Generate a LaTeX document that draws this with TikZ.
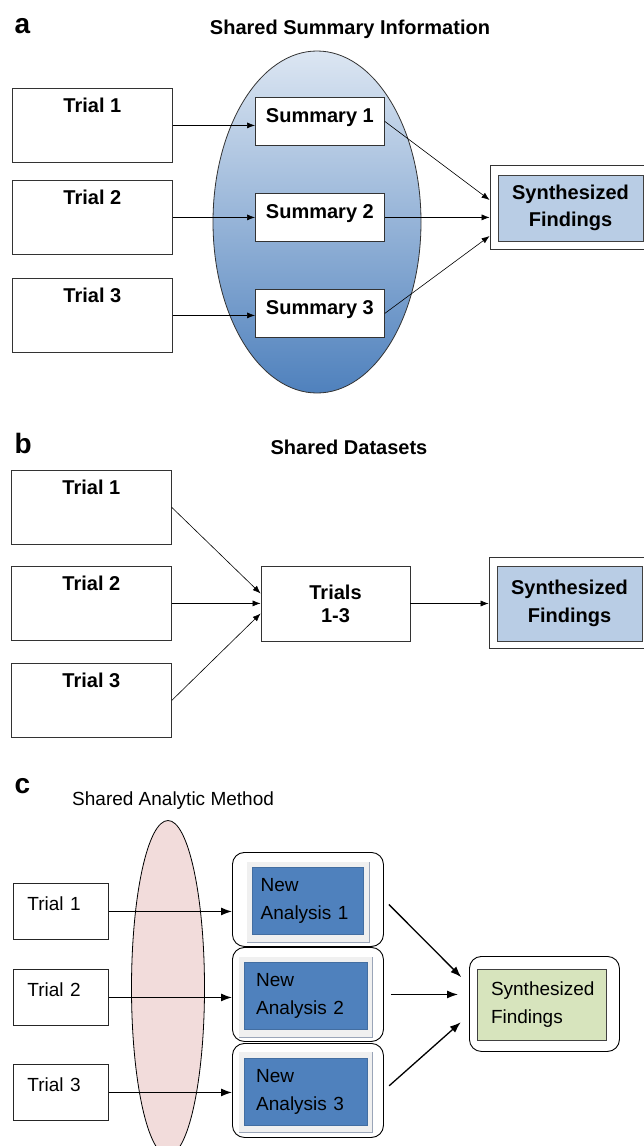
\documentclass[tikz,border=0pt]{standalone}
\usepackage{fontspec}
\setmainfont{Liberation Sans}
\usetikzlibrary{shapes.geometric,arrows.meta,calc}
\definecolor{paleblue}{HTML}{B9CDE5}
\definecolor{topblue}{HTML}{DCE6F2}
\definecolor{deepblue}{HTML}{4F81BD}
\definecolor{ovalpink}{HTML}{F2DCDB}
\definecolor{sagegreen}{HTML}{D7E4BD}
\definecolor{shadowgray}{HTML}{9AA5B8}

\begin{document}
\begin{tikzpicture}[x = {(1pt, 0pt)}, y = {(0pt, -1pt)},
  boldtext/.style = {font=\fontsize{20}{27}\selectfont\bfseries},
  plaintext/.style = {font=\fontsize{19}{28}\selectfont},
  panel/.style = {font=\fontsize{28}{30}\selectfont\bfseries, anchor=base west},
  trial/.style = {draw=black!80, line width=0.8pt, anchor=north west, inner sep=0,
    minimum width=160, text height=24, text depth=50, boldtext},
  summary/.style = {draw=black!80, line width=0.8pt, fill=white, anchor=north west,
    inner sep=0, minimum width=129, text height=25, text depth=23, boldtext},
  frame/.style = {draw=black!80, line width=0.8pt, fill=white},
  synth/.style = {draw=black!75, line width=0.8pt, fill=paleblue, align=center, boldtext},
  arr/.style = {-{Latex[length=8pt, width=6pt]}, line width=0.6pt},
  bigarr/.style = {-{Latex[length=11pt, width=8pt]}, line width=1.3pt},
  smalltrial/.style = {draw=black!85, line width=0.9pt, anchor=north west, inner ysep=0,
    inner xsep=14, text width=67, align=left, text height=27, text depth=29, plaintext},
  roundbox/.style = {draw, line width=0.9pt, rounded corners=12, anchor=north west,
    minimum width=151, minimum height=94},
  grayframe/.style = {fill=black!6, anchor=north west, inner sep=0},
  newbox/.style = {fill=deepblue, draw=deepblue!85!black, anchor=north west, align=left,
    inner xsep=12, minimum height=67, plaintext}]
  \path[use as bounding box, clip] (0, 0) rectangle (644, 1146);

  % panel a
  \node[panel] (la) at (11, 33) {a};
  \node[boldtext, anchor=base] (ta) at (350, 34) {Shared Summary Information};

  \node[ellipse, draw=black!80, line width=0.8pt, top color=topblue, bottom color=deepblue,
    minimum width=208, minimum height=342] (ea) at (317, 222) {};

  \node[trial] (a1) at (12, 88) {Trial 1};
  \node[trial] (a2) at (12, 180) {Trial 2};
  \node[trial] (a3) at (12, 278) {Trial 3};

  \node[summary] (s1) at (255, 97) {Summary 1};
  \draw[arr] (a1.east) -- (a1.east -| s1.west);

  \node[summary] (s2) at (255, 193) {Summary 2};
  \draw[arr] (a2.east) -- (a2.east -| s2.west);

  \node[summary] (s3) at (255, 289) {Summary 3};
  \draw[arr] (a3.east) -- (a3.east -| s3.west);

  \node[frame, minimum width=158, minimum height=84] (fa) at (569, 207) {};
  \node[synth, minimum width=145, minimum height=66] (fai) at (570.5, 208) {Synthesized\\Findings};
  \draw[arr] (s1.east) -- ($(fa.west) + (0, -7)$);
  \draw[arr] (s2.east) -- (s2.east -| fa.west);
  \draw[arr] (s3.east) -- ($(fa.west) + (0, 29)$);

  % panel b
  \node[panel] (lb) at (11, 453) {b};
  \node[boldtext, anchor=base] (tb) at (349, 454) {Shared Datasets};

  \node[trial] (b1) at (11, 470) {Trial 1};
  \node[trial] (b2) at (11, 566) {Trial 2};
  \node[trial] (b3) at (11, 663) {Trial 3};

  \node[draw=black!80, line width=0.8pt, align=center, minimum width=149, minimum height=75,
    font=\fontsize{20}{23}\selectfont\bfseries] (bt) at (335.5, 603.5) {Trials\\1-3};
  \draw[arr] (b1.east) -- ($(bt.west) + (0, -10)$);
  \draw[arr] (b2.east) -- (b2.east -| bt.west);
  \draw[arr] (b3.east) -- ($(bt.west) + (0, 10)$);

  \node[frame, minimum width=159, minimum height=91] (fb) at (568.5, 602.5) {};
  \node[synth, minimum width=145, minimum height=75, font=\fontsize{20}{28}\selectfont\bfseries]
    (fbi) at (569.5, 603.5) {Synthesized\\Findings};
  \draw[arr] (bt.east) -- (bt.east -| fb.west);

  % panel c
  \node[panel] (lc) at (11, 793) {c};
  \node[plaintext, anchor=base west, inner sep=0] (tc) at (72, 805) {Shared Analytic Method};

  \node[ellipse, draw, line width=0.8pt, fill=ovalpink, minimum width=73, minimum height=335]
    (ec) at (168, 988) {};

  \node[smalltrial] (c1) at (13, 883) {Trial 1};
  \node[smalltrial] (c2) at (13, 969) {Trial 2};
  \node[smalltrial] (c3) at (13, 1064) {Trial 3};

  \node[roundbox] (n1) at (232, 852) {};
  \node[grayframe, minimum width=122, minimum height=80] (g1) at (247, 862) {};
  \draw[shadowgray, line width=1.5pt] (g1.south west) -- (g1.south east) -- (g1.north east);
  \node[newbox, text width=94, inner xsep=8.5] (u1) at (252, 867) {New\\Analysis 1};
  \draw[bigarr] (c1.east) -- (c1.east -| n1.west);

  \node[roundbox] (n2) at (232, 947) {};
  \node[grayframe, minimum width=133, minimum height=80] (g2) at (239, 957) {};
  \draw[shadowgray, line width=1.5pt] (g2.south west) -- (g2.south east) -- (g2.north east);
  \node[newbox, text width=99] (u2) at (244, 962) {New\\Analysis 2};
  \draw[bigarr] (c2.east) -- (c2.east -| n2.west);

  \node[roundbox] (n3) at (232, 1043) {};
  \node[grayframe, minimum width=133, minimum height=80] (g3) at (239, 1052) {};
  \draw[shadowgray, line width=1.5pt] (g3.south west) -- (g3.south east) -- (g3.north east);
  \node[newbox, text width=99] (u3) at (244, 1058) {New\\Analysis 3};
  \draw[bigarr] (c3.east) -- (c3.east -| n3.west);

  \node[roundbox, minimum width=150, minimum height=95] (fc) at (469, 956) {};
  \node[draw=black!75, line width=0.9pt, fill=sagegreen, align=left, inner xsep=14,
    text width=101, minimum height=71, plaintext] (fci) at (541.5, 1004.5) {Synthesized\\Findings};
  \draw[bigarr, shorten <=7pt, shorten >=11pt] (n1.east) -- ($(fc.west) + (0, -19)$);
  \draw[bigarr, shorten <=7pt, shorten >=11pt] (n2.east) -- (n2.east -| fc.west);
  \draw[bigarr, shorten <=7pt, shorten >=11pt] (n3.east) -- ($(fc.west) + (0, 11)$);
\end{tikzpicture}
\end{document}
